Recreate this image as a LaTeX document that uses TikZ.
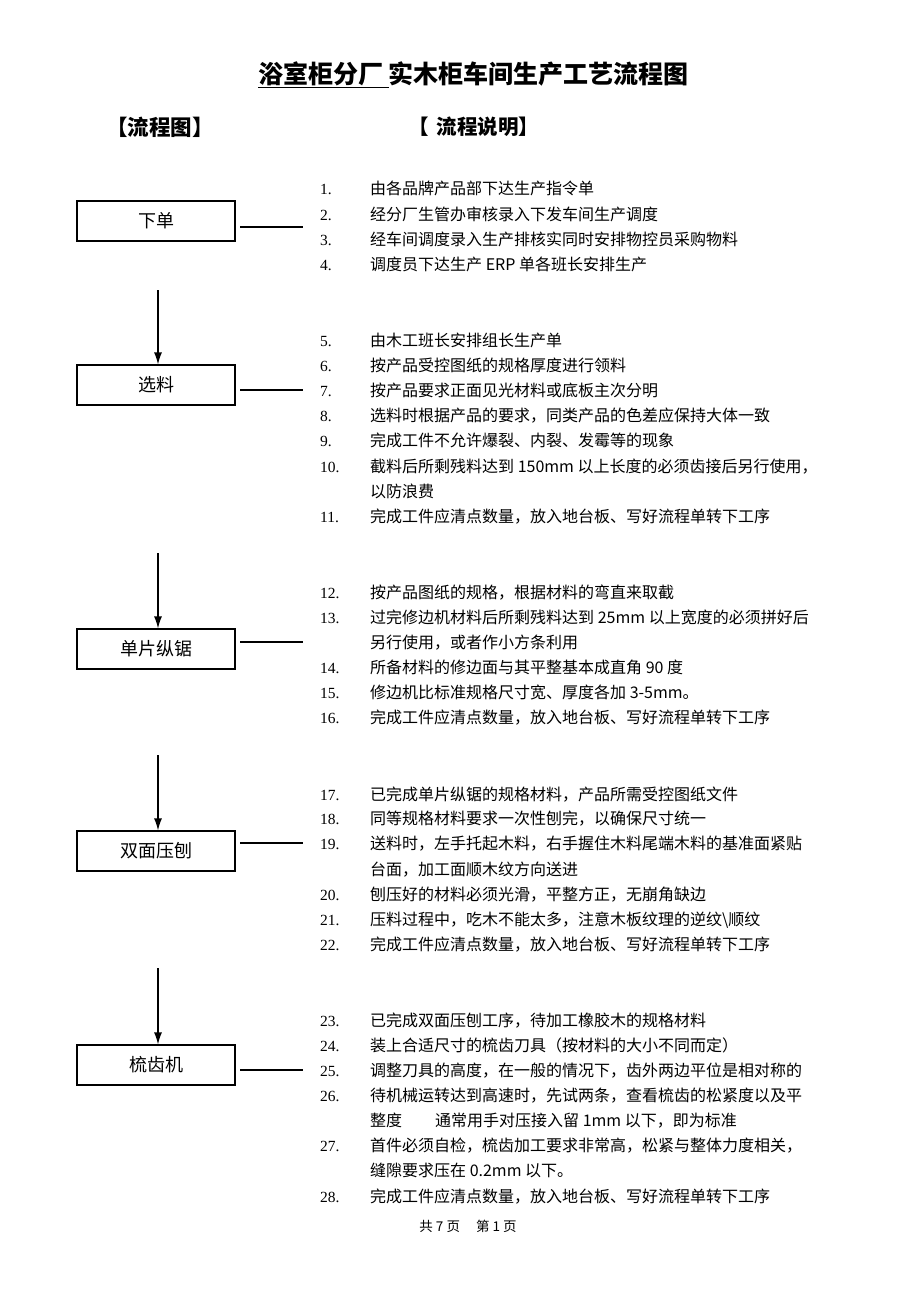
\documentclass[tikz,border=0pt]{standalone}
\usepackage{fontspec}
\setmainfont{Liberation Serif}
\newfontfamily\cjk{Noto Sans CJK SC}
\usetikzlibrary{arrows.meta}
\tikzset{
  stepbox/.style={draw, line width=1.2pt, minimum width=158pt, minimum height=40pt, inner sep=0pt, font=\cjk\fontsize{18}{18}\selectfont},
  itemnum/.style={anchor=base west, inner sep=0pt, font=\fontsize{15.5}{15}\selectfont},
  itemtext/.style={anchor=base west, inner sep=0pt, font=\cjk\fontsize{16}{16}\selectfont},
  flow/.style={-{Latex[length=12pt,width=8pt]}, line width=1.2pt},
  tie/.style={line width=1.2pt}
}
\begin{document}
\begin{tikzpicture}[x=1pt,y=-1pt]
    \useasboundingbox[fill=white] (0,0) rectangle (920,1302);
    \node[anchor=west, inner sep=0pt, font=\cjk\bfseries\fontsize{25}{25}\selectfont] (title) at (258,75) {\underline{浴室柜分厂\ }实木柜车间生产工艺流程图};
    \node[anchor=west, inner sep=0pt, font=\cjk\bfseries\fontsize{21.5}{22}\selectfont] (headl) at (106,127) {【流程图】};
    \node[anchor=west, inner sep=0pt, font=\cjk\bfseries\fontsize{20.5}{22}\selectfont] (headr) at (408,127) {【\hspace{8pt}流程说明】};
    \node[stepbox] (xiadan) at (156,221) {下单};
    \node[stepbox] (xuanliao) at (156,385) {选料};
    \node[stepbox] (zongju) at (156,649) {单片纵锯};
    \node[stepbox] (yapao) at (156,851) {双面压刨};
    \node[stepbox] (shuchi) at (156,1065) {梳齿机};
    \coordinate (a1) at (158,290);
    \coordinate (a2) at (158,553);
    \coordinate (a3) at (158,755);
    \coordinate (a4) at (158,968);
    \draw[flow] (a1) -- (a1 |- xuanliao.north);
    \draw[flow] (a2) -- (a2 |- zongju.north);
    \draw[flow] (a3) -- (a3 |- yapao.north);
    \draw[flow] (a4) -- (a4 |- shuchi.north);
    \foreach \s/\y in {1/227, 2/390, 3/642, 4/843, 5/1070}
      {\coordinate (l\s) at (240,\y); \coordinate (r\s) at (303,\y); \draw[tie] (l\s) -- (r\s);}
    \foreach \n/\y/\t in {
      1./188/{由各品牌产品部下达生产指令单},
      2./214/{经分厂生管办审核录入下发车间生产调度},
      3./239/{经车间调度录入生产排核实同时安排物控员采购物料},
      4./264/{调度员下达生产 ERP 单各班长安排生产},
      5./340/{由木工班长安排组长生产单},
      6./365/{按产品受控图纸的规格厚度进行领料},
      7./390/{按产品要求正面见光材料或底板主次分明},
      8./415/{选料时根据产品的要求，同类产品的色差应保持大体一致},
      9./440/{完成工件不允许爆裂、内裂、发霉等的现象},
      10./466/{截料后所剩残料达到 150mm 以上长度的必须齿接后另行使用，},
      11./516/{完成工件应清点数量，放入地台板、写好流程单转下工序},
      12./592/{按产品图纸的规格，根据材料的弯直来取截},
      13./617/{过完修边机材料后所剩残料达到 25mm 以上宽度的必须拼好后},
      14./667/{所备材料的修边面与其平整基本成直角 90 度},
      15./692/{修边机比标准规格尺寸宽、厚度各加 3-5mm。},
      16./717/{完成工件应清点数量，放入地台板、写好流程单转下工序},
      17./794/{已完成单片纵锯的规格材料，产品所需受控图纸文件},
      18./818/{同等规格材料要求一次性刨完，以确保尺寸统一},
      19./843/{送料时，左手托起木料，右手握住木料尾端木料的基准面紧贴},
      20./894/{刨压好的材料必须光滑，平整方正，无崩角缺边},
      21./919/{压料过程中，吃木不能太多，注意木板纹理的逆纹\textbackslash 顺纹},
      22./944/{完成工件应清点数量，放入地台板、写好流程单转下工序},
      23./1020/{已完成双面压刨工序，待加工橡胶木的规格材料},
      24./1045/{装上合适尺寸的梳齿刀具（按材料的大小不同而定）},
      25./1070/{调整刀具的高度，在一般的情况下，齿外两边平位是相对称的},
      26./1095/{待机械运转达到高速时，先试两条，查看梳齿的松紧度以及平},
      27./1145/{首件必须自检，梳齿加工要求非常高，松紧与整体力度相关，},
      28./1196/{完成工件应清点数量，放入地台板、写好流程单转下工序}}
      {\node[itemnum] (n\y) at (320,\y+6) {\n}; \node[itemtext] (t\y) at (370,\y+6) {\t};}
    \foreach \y/\t in {491/{以防浪费}, 642/{另行使用，或者作小方条利用}, 869/{台面，加工面顺木纹方向送进},
      1120/{整度\hspace{33pt}通常用手对压接入留 1mm 以下，即为标准}, 1170/{缝隙要求压在 0.2mm 以下。}}
      {\node[itemtext] (c\y) at (370,\y+6) {\t};}
    \node[inner sep=0pt, font=\cjk\fontsize{13.5}{14}\selectfont] (foot) at (468,1226) {共 7 页\hspace{16pt}第 1 页};
  \end{tikzpicture}
\end{document}
